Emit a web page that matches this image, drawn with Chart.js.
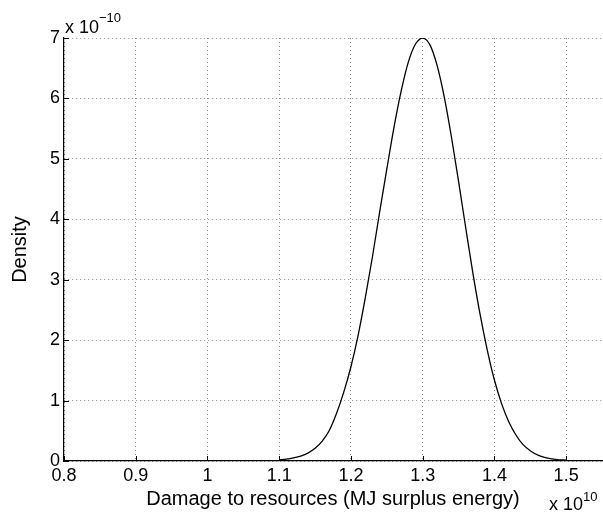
<!DOCTYPE html>
<html>
<head>
<meta charset="utf-8">
<script src="https://cdn.jsdelivr.net/npm/chart.js@4/dist/chart.umd.min.js"></script>
<style>
  html, body { margin: 0; padding: 0; background: #fff; }
  #c { display: block; }
</style>
</head>
<body>
<canvas id="c" width="603" height="518"></canvas>
<script>
// ---- data (x in units of 1e10 MJ, density in units of 1e-10) ----
const damageX = [1.10, 1.11, 1.12, 1.13, 1.14, 1.15, 1.16, 1.17, 1.18, 1.19,
                 1.20, 1.21, 1.22, 1.23, 1.24, 1.25, 1.26, 1.27, 1.28, 1.29,
                 1.30, 1.31, 1.32, 1.33, 1.34, 1.35, 1.36, 1.37, 1.38, 1.39,
                 1.40, 1.41, 1.42, 1.43, 1.44, 1.45, 1.46, 1.47, 1.48, 1.49, 1.50];
const densityY = [0.02, 0.03, 0.05, 0.08, 0.13, 0.21, 0.33, 0.51, 0.79, 1.14,
                  1.56, 2.08, 2.70, 3.38, 4.12, 4.83, 5.52, 6.12, 6.60, 6.90,
                  7.00, 6.89, 6.55, 6.03, 5.37, 4.63, 3.86, 3.11, 2.43, 1.84,
                  1.34, 0.95, 0.65, 0.43, 0.27, 0.17, 0.10, 0.06, 0.035, 0.02, 0.015];
const xTickValues = [0.8, 0.9, 1.0, 1.1, 1.2, 1.3, 1.4, 1.5];
const xTickLabels = ['0.8', '0.9', '1', '1.1', '1.2', '1.3', '1.4', '1.5'];
const yTickValues = [0, 1, 2, 3, 4, 5, 6, 7];
const yTickLabels = ['0', '1', '2', '3', '4', '5', '6', '7'];
const xAxisTitle = 'Damage to resources (MJ surplus energy)';
const yAxisTitle = 'Density';
const xExponent = '10';
const yExponent = '\u221210';
const xMin = 0.8, xMax = 1.55, yMin = 0, yMax = 7;

const FONT = '"Liberation Sans", Arial, Helvetica, sans-serif';

const points = damageX.map((x, i) => ({ x: x, y: densityY[i] }));

const extras = {
  id: 'extras',
  afterDraw(chart) {
    const ctx = chart.ctx;
    const xs = chart.scales.x, ys = chart.scales.y;
    const area = chart.chartArea;
    ctx.save();
    // inner tick marks (MATLAB style)
    ctx.strokeStyle = '#000';
    ctx.lineWidth = 1;
    ctx.setLineDash([]);
    ctx.beginPath();
    xTickValues.forEach(v => {
      const px = Math.round(xs.getPixelForValue(v)) + 0.5;
      ctx.moveTo(px, area.bottom);
      ctx.lineTo(px, area.bottom - 5);
    });
    yTickValues.forEach(v => {
      const py = Math.round(ys.getPixelForValue(v)) + 0.5;
      ctx.moveTo(area.left, py);
      ctx.lineTo(area.left + 5, py);
    });
    ctx.stroke();
    // exponent labels
    ctx.fillStyle = '#000';
    ctx.textBaseline = 'alphabetic';
    ctx.textAlign = 'left';
    ctx.font = '18px ' + FONT;
    ctx.fillText('x 10', area.left + 1, 33);
    let w = ctx.measureText('x 10').width;
    ctx.font = '13px ' + FONT;
    ctx.fillText(yExponent, area.left + 1 + w, 22);
    ctx.font = '18px ' + FONT;
    ctx.fillText('x 10', 549, 510);
    w = ctx.measureText('x 10').width;
    ctx.font = '13px ' + FONT;
    ctx.fillText(xExponent, 549 + w, 501);
    ctx.restore();
  }
};

new Chart(document.getElementById('c'), {
  type: 'line',
  data: {
    datasets: [{
      data: points,
      borderColor: '#000',
      borderWidth: 1.3,
      pointRadius: 0,
      fill: false,
      cubicInterpolationMode: 'monotone'
    }]
  },
  options: {
    responsive: false,
    devicePixelRatio: 1,
    animation: false,
    layout: { padding: { left: 0, top: 38, right: 1, bottom: 0 } },
    plugins: { legend: { display: false }, tooltip: { enabled: false } },
    scales: {
      x: {
        type: 'linear',
        min: xMin, max: xMax,
        afterBuildTicks: s => { s.ticks = xTickValues.map(v => ({ value: v })); },
        afterFit: s => { s.height = 57; },
        ticks: {
          color: '#000',
          font: { family: FONT, size: 18 },
          padding: 4,
          maxRotation: 0,
          autoSkip: false,
          callback: (v) => { const i = xTickValues.findIndex(t => Math.abs(t - v) < 1e-9); return i >= 0 ? xTickLabels[i] : ''; }
        },
        grid: { color: '#8a8a8a', lineWidth: 1, drawTicks: false },
        border: { display: true, color: '#000', width: 1.2, dash: [1, 3] },
        title: {
          display: true, text: xAxisTitle, color: '#000',
          font: { family: FONT, size: 20 },
          padding: { top: 0, bottom: 7 }
        }
      },
      y: {
        type: 'linear',
        min: yMin, max: yMax,
        afterBuildTicks: s => { s.ticks = yTickValues.map(v => ({ value: v })); },
        afterFit: s => { s.width = 64; },
        ticks: {
          color: '#000',
          font: { family: FONT, size: 18 },
          padding: 4,
          autoSkip: false,
          callback: (v) => { const i = yTickValues.indexOf(v); return i >= 0 ? yTickLabels[i] : ''; }
        },
        grid: { color: '#8a8a8a', lineWidth: 1, drawTicks: false },
        border: { display: true, color: '#000', width: 1.2, dash: [1, 3] },
        title: {
          display: true, text: yAxisTitle, color: '#000',
          font: { family: FONT, size: 20 },
          padding: { top: 8, bottom: 0 }
        }
      }
    }
  },
  plugins: [extras]
});
</script>
</body>
</html>
